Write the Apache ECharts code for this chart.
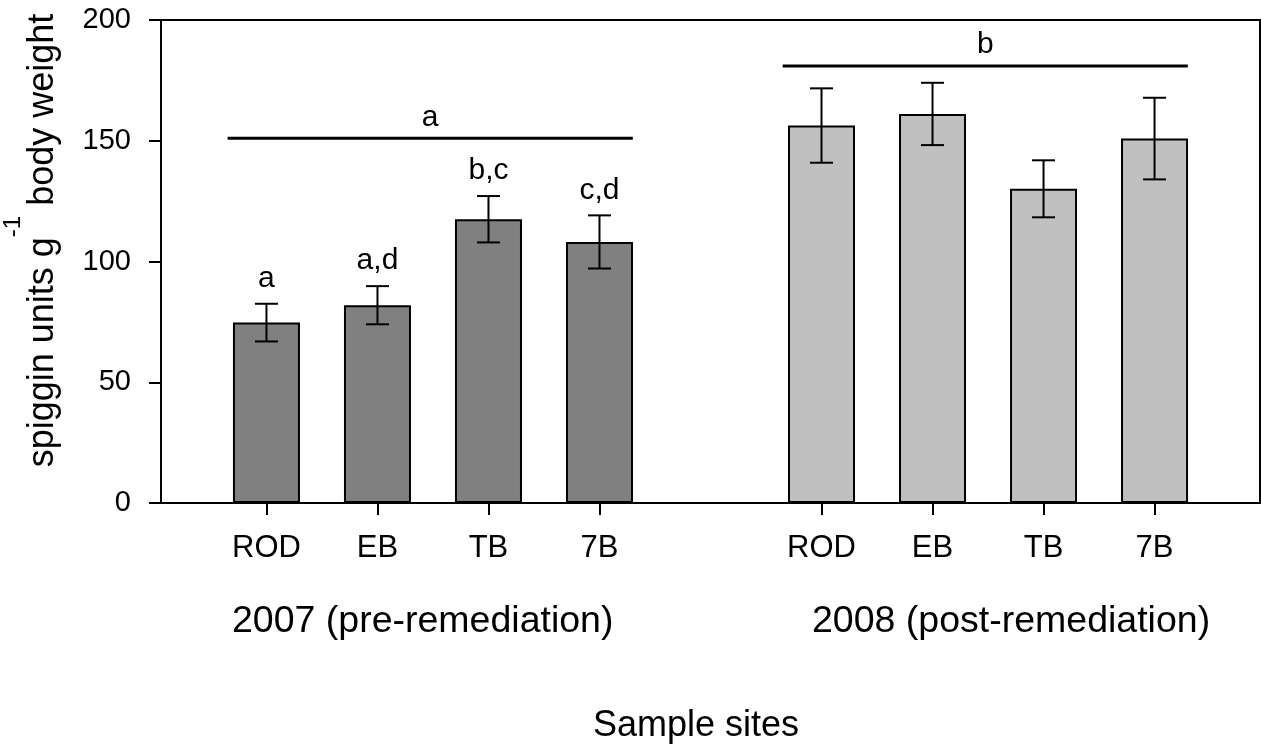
<!DOCTYPE html>
<html><head><meta charset="utf-8">
<script src="https://cdn.jsdelivr.net/npm/echarts@6/dist/echarts.min.js"></script>
<style>html,body{margin:0;padding:0;background:#fff}#c{width:1261px;height:755px}</style>
</head><body><div id="c"></div>
<script>
// ---- data ----
const categories = ['ROD', 'EB', 'TB', '7B'];
const yearLabels = ['2007 (pre-remediation)', '2008 (post-remediation)'];
const mean2007 = [74.7, 81.9, 117.5, 108.1];
const se2007 = [7.8, 7.9, 9.6, 11.0];
const mean2008 = [156.3, 161.1, 130.1, 150.9];
const se2008 = [15.4, 12.9, 11.8, 16.9];
const letters2007 = ['a', 'a,d', 'b,c', 'c,d'];
const letters2008 = ['', '', '', ''];
const groupLetters = ['a', 'b'];
const groupLineValues = [151, 181];
const yTicks = [0, 50, 100, 150, 200];
const xAxisTitle = 'Sample sites';

// ---- build ----
const FONT = 'Liberation Sans, Arial, Helvetica, sans-serif';
function pos(g, i) { return g * 5 + i + 1; }
const bars07 = mean2007.map((v, i) => [pos(0, i), v]);
const bars08 = mean2008.map((v, i) => [pos(1, i), v]);
const err07 = mean2007.map((v, i) => [pos(0, i), v, se2007[i]]);
const err08 = mean2008.map((v, i) => [pos(1, i), v, se2008[i]]);
const groupLines = groupLineValues.map((v, g) => [pos(g, 0) - 0.35, pos(g, 3) + 0.3, v]);
const tickPositions = [0, 1].flatMap(g => categories.map((c, i) => pos(g, i)));

function errRender(letters) {
  return function (params, api) {
    const x = api.value(0), m = api.value(1), e = api.value(2);
    const t = api.coord([x, m + e]), b = api.coord([x, m - e]);
    const cap = 11.5;
    const st = { stroke: '#000', lineWidth: 2 };
    const ch = [
      { type: 'line', shape: { x1: t[0], y1: t[1], x2: b[0], y2: b[1] }, style: st },
      { type: 'line', shape: { x1: t[0] - cap, y1: t[1], x2: t[0] + cap, y2: t[1] }, style: st },
      { type: 'line', shape: { x1: b[0] - cap, y1: b[1], x2: b[0] + cap, y2: b[1] }, style: st }
    ];
    const lab = letters[params.dataIndex];
    if (lab) {
      ch.push({ type: 'text', x: t[0], y: t[1] - 10,
        style: { text: lab, fill: '#000', font: '30px ' + FONT, textAlign: 'center', textVerticalAlign: 'bottom' } });
    }
    return { type: 'group', children: ch };
  };
}

const chart = echarts.init(document.getElementById('c'));
chart.setOption({
  animation: false,
  backgroundColor: '#fff',
  grid: { left: 161, right: 1, top: 20, bottom: 252, show: true, borderColor: '#000', borderWidth: 2,
    containLabel: false, outerBoundsMode: 'none' },
  xAxis: {
    type: 'value', min: 0.05, max: 9.95,
    axisLine: { show: true, onZero: false, lineStyle: { color: '#000', width: 2 } },
    axisTick: { show: true, length: 12, customValues: tickPositions, lineStyle: { color: '#000', width: 2 } },
    axisLabel: { show: true, customValues: tickPositions, margin: 30, color: '#000', fontSize: 31, fontFamily: FONT,
      formatter: v => categories[(Math.round(v) - 1) % 5] },
    splitLine: { show: false }
  },
  yAxis: {
    type: 'value', min: 0, max: 200, interval: 50,
    axisLine: { show: true, lineStyle: { color: '#000', width: 2 } },
    axisTick: { show: true, length: 12, lineStyle: { color: '#000', width: 2 } },
    axisLabel: { margin: 30, color: '#000', fontSize: 29, fontFamily: FONT,
      formatter: v => (yTicks.indexOf(v) >= 0 ? String(v) : '') },
    splitLine: { show: false },
    name: '{m|spiggin units g}{s|-1}{m| body weight}',
    nameLocation: 'middle', nameRotate: 90, nameGap: 100, nameMoveOverlap: false,
    nameTextStyle: {
      padding: [0, 0, 0, 42],
      rich: {
        m: { fontSize: 36, fontFamily: FONT, color: '#000', lineHeight: 40, verticalAlign: 'bottom' },
        s: { fontSize: 24, fontFamily: FONT, color: '#000', lineHeight: 60, verticalAlign: 'top' }
      }
    }
  },
  graphic: [
    { type: 'text', left: 232, top: 603, style: { text: yearLabels[0], fill: '#000', font: '37.5px ' + FONT } },
    { type: 'text', left: 812, top: 603, style: { text: yearLabels[1], fill: '#000', font: '37.5px ' + FONT } },
    { type: 'text', left: 593, top: 708, style: { text: xAxisTitle, fill: '#000', font: '36px ' + FONT } }
  ],
  series: [
    { type: 'bar', data: bars07, barWidth: 67, itemStyle: { color: '#808080', borderColor: '#000', borderWidth: 2 } },
    { type: 'bar', data: bars08, barWidth: 67, barGap: '-100%', itemStyle: { color: '#c0c0c0', borderColor: '#000', borderWidth: 2 } },
    { type: 'custom', data: err07, renderItem: errRender(letters2007), z: 5 },
    { type: 'custom', data: err08, renderItem: errRender(letters2008), z: 5 },
    { type: 'custom', data: groupLines, z: 5, renderItem: function (params, api) {
        const a = api.coord([api.value(0), api.value(2)]);
        const b = api.coord([api.value(1), api.value(2)]);
        return { type: 'group', children: [
          { type: 'line', shape: { x1: a[0], y1: a[1], x2: b[0], y2: b[1] }, style: { stroke: '#000', lineWidth: 3 } },
          { type: 'text', x: (a[0] + b[0]) / 2, y: a[1] - 6,
            style: { text: groupLetters[params.dataIndex], fill: '#000', font: '30px ' + FONT, textAlign: 'center', textVerticalAlign: 'bottom' } }
        ] };
      } }
  ]
});
</script></body></html>
